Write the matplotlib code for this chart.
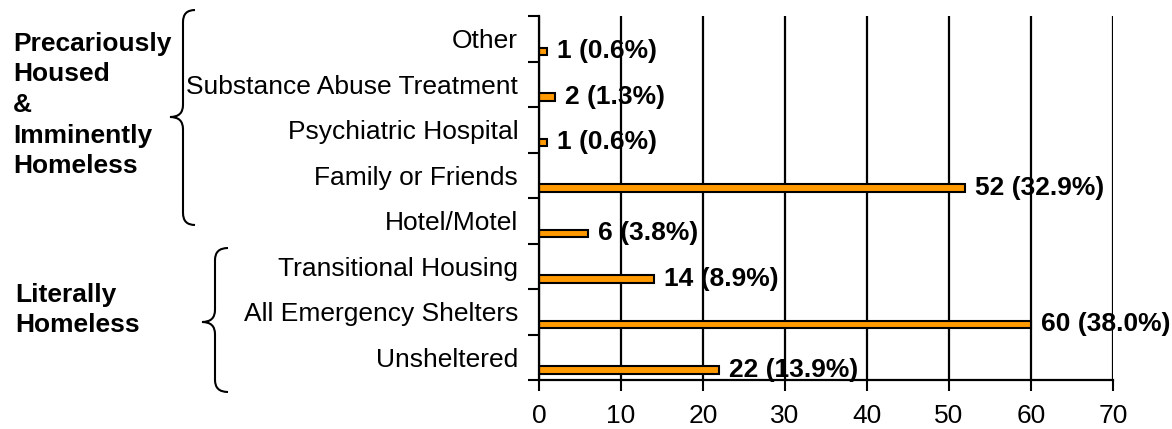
import numpy as np
import matplotlib
matplotlib.use("Agg")
from matplotlib import pyplot as plt
from matplotlib.path import Path
from matplotlib.patches import PathPatch

plt.rcParams['font.family'] = ['Liberation Sans', 'DejaVu Sans']

# data, top to bottom as in the chart
categories = ['Other', 'Substance Abuse Treatment', 'Psychiatric Hospital',
              'Family or Friends', 'Hotel/Motel', 'Transitional Housing',
              'All Emergency Shelters', 'Unsheltered']
counts = [1, 2, 1, 52, 6, 14, 60, 22]
percents = ['0.6', '1.3', '0.6', '32.9', '3.8', '8.9', '38.0', '13.9']
group_labels = ['Precariously\nHoused\n&\nImminently\nHomeless', 'Literally\nHomeless']
x_ticks = [0, 10, 20, 30, 40, 50, 60, 70]

W, H = 1172, 429
fig = plt.figure(figsize=(W / 100, H / 100), dpi=100)
ax = fig.add_axes([539 / W, 1 - 380 / H, (1113 - 539) / W, (380 - 16) / H])

pos = np.arange(len(categories))
ax.barh(pos + 0.28, counts, height=0.16, color='#FF9900', edgecolor='black',
        linewidth=1.5, zorder=3)
for p, c, pc in zip(pos, counts, percents):
    ax.annotate('%d (%s%%)' % (c, pc), (c, p + 0.28), xytext=(7, 0),
                textcoords='offset points', va='center', ha='left',
                fontsize=19, fontweight='bold', zorder=4)

ax.set_xlim(0, 70)
ax.set_ylim(len(categories) - 0.5, -0.5)
ax.set_xticks(x_ticks)
ax.set_xticklabels([str(t) for t in x_ticks], fontsize=19)
ax.set_yticks(np.arange(-0.5, len(categories)))
ax.set_yticklabels([])
ax.set_yticks(pos, minor=True)
ax.set_yticklabels(categories, minor=True, fontsize=19)
ax.tick_params(axis='y', which='minor', length=0, pad=15)
ax.tick_params(axis='y', which='major', length=8, width=1.5, direction='out')
ax.tick_params(axis='x', length=8, width=1.5, direction='out', pad=9)
ax.xaxis.grid(True, color='black', linewidth=1.6, zorder=1)
ax.set_axisbelow(True)
for s in ['top', 'right']:
    ax.spines[s].set_visible(False)
for s in ['left', 'bottom']:
    ax.spines[s].set_linewidth(1.6)
    ax.spines[s].set_zorder(5)


def brace(xr, xv, xp, ytop, ymid, ybot, r=12):
    pts = [(xr, ytop), (xv, ytop), (xv, ytop + r),
           (xv, ymid - r),
           (xv, ymid), (xp, ymid),
           (xv, ymid), (xv, ymid + r),
           (xv, ybot - r),
           (xv, ybot), (xr, ybot)]
    codes = [Path.MOVETO, Path.CURVE3, Path.CURVE3, Path.LINETO,
             Path.CURVE3, Path.CURVE3, Path.CURVE3, Path.CURVE3,
             Path.LINETO, Path.CURVE3, Path.CURVE3]
    pts = [(x / W, 1 - y / H) for x, y in pts]
    fig.add_artist(PathPatch(Path(pts, codes), transform=fig.transFigure,
                             fill=False, edgecolor='black', linewidth=1.5))


brace(195, 183, 170, 10, 117, 225)
brace(228, 215, 202, 248, 322, 392)

fig.text(13 / W, 1 - 105 / H, group_labels[0], fontsize=19, fontweight='bold',
         va='center', ha='left', linespacing=1.35)
fig.text(15 / W, 1 - 310 / H, group_labels[1], fontsize=19, fontweight='bold',
         va='center', ha='left', linespacing=1.35)

fig.savefig('out.png', dpi=100)
